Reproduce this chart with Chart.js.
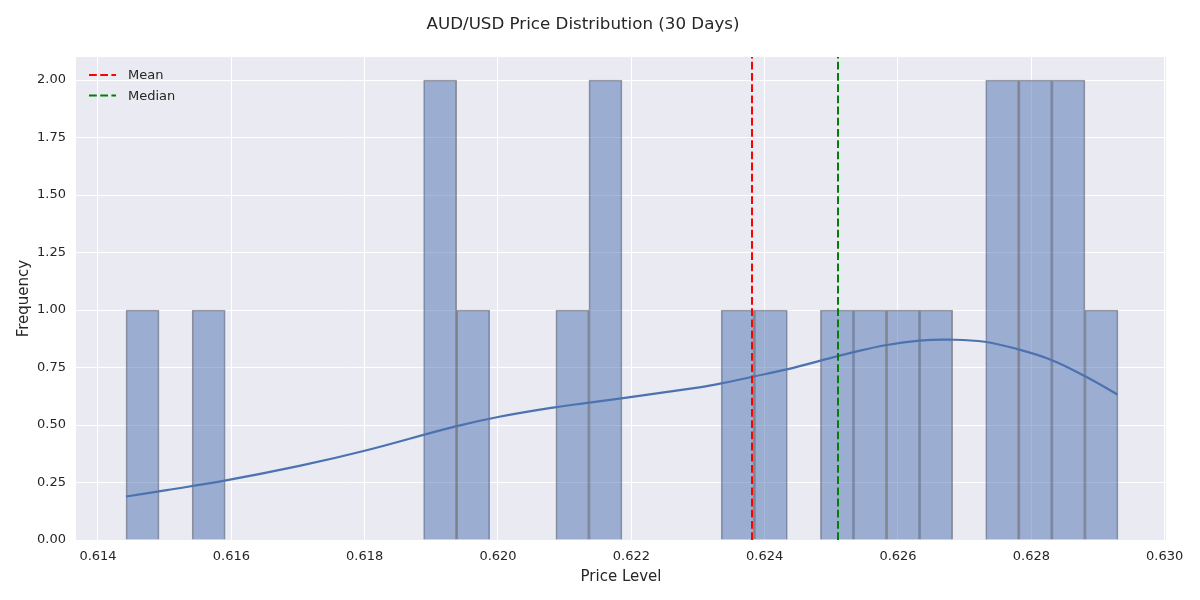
<!DOCTYPE html>
<html lang="en">
<head>
    <meta charset="UTF-8">
    <title>AUD/USD Price Distribution</title>
    <style>
        html, body { margin: 0; padding: 0; background: #ffffff; }
        #wrap { width: 1200px; height: 600px; }
    </style>
</head>
<body>
    <div id="wrap"><canvas id="canvas"></canvas></div>
</body>

<script src="https://cdn.jsdelivr.net/npm/chart.js"></script>

<script>
// histogram bins (30 bins)
const binStart = 0.61442;
const binWidth = 0.000496;
const binCounts = [1, 0, 1, 0, 0, 0, 0, 0, 0, 2, 1, 0, 0, 1, 2, 0, 0, 0, 1, 1, 0, 1, 1, 1, 1, 0, 2, 2, 2, 1];

// kde curve
const kdeX = [0.61442, 0.61503, 0.61590, 0.61702, 0.61800, 0.61935, 0.62002, 0.62085, 0.62134, 0.62185,
              0.62302, 0.62335, 0.62382, 0.62433, 0.62497, 0.62532, 0.62583, 0.62632, 0.62677, 0.62730,
              0.62779, 0.62830, 0.62880, 0.62929];
const kdeY = [0.189, 0.217, 0.258, 0.322, 0.388, 0.493, 0.536, 0.577, 0.596, 0.616,
              0.664, 0.681, 0.710, 0.742, 0.790, 0.816, 0.848, 0.867, 0.871, 0.862,
              0.830, 0.783, 0.713, 0.633];

const meanPrice = 0.62381;
const medianPrice = 0.62510;

const xTickStep = 0.002;
const yTickStep = 0.25;

const FONT = "'DejaVu Sans', sans-serif";
const TEXT = '#262626';

const bars = binCounts.map((c, i) => ({ x: binStart + binWidth * (i + 0.5), y: c }));
const kde = kdeX.map((x, i) => ({ x: x, y: kdeY[i] }));

const areaBg = {
  id: 'areaBg',
  beforeDraw(chart) {
    const { ctx, chartArea: a } = chart;
    ctx.save();
    ctx.fillStyle = '#EAEAF2';
    ctx.fillRect(a.left, a.top, a.right - a.left, a.bottom - a.top);
    ctx.restore();
  }
};

// seaborn-like legend in the upper left of the plot
const innerLegend = {
  id: 'innerLegend',
  afterDraw(chart) {
    const { ctx, chartArea: a } = chart;
    const items = chart.data.datasets.filter(d => d.inLegend);
    ctx.save();
    items.forEach((d, i) => {
      const y = a.top + 18 + i * 20.5;
      ctx.strokeStyle = d.borderColor;
      ctx.lineWidth = 2;
      ctx.setLineDash(d.borderDash);
      ctx.beginPath();
      ctx.moveTo(a.left + 13, y);
      ctx.lineTo(a.left + 40, y);
      ctx.stroke();
      ctx.setLineDash([]);
      ctx.fillStyle = TEXT;
      ctx.font = '13px ' + FONT;
      ctx.textBaseline = 'middle';
      ctx.fillText(d.label, a.left + 52, y + 1);
    });
    ctx.restore();
  }
};

new Chart(document.getElementById('canvas'), {
  type: 'bar',
  data: {
    datasets: [
      {
        type: 'bar',
        label: 'Count',
        data: bars,
        backgroundColor: 'rgba(76,114,176,0.5)',
        borderColor: 'rgba(45,45,55,0.45)',
        borderWidth: 1,
        barPercentage: 1,
        categoryPercentage: 1,
        order: 4
      },
      {
        type: 'line',
        label: 'KDE',
        data: kde,
        borderColor: '#4C72B0',
        borderWidth: 2.2,
        pointRadius: 0,
        tension: 0.4,
        fill: false,
        order: 3
      },
      {
        type: 'line',
        label: 'Mean',
        inLegend: true,
        data: [{ x: meanPrice, y: 0 }, { x: meanPrice, y: 2.1 }],
        borderColor: '#ff0000',
        borderWidth: 2,
        borderDash: [7.8, 3.4],
        pointRadius: 0,
        order: 2
      },
      {
        type: 'line',
        label: 'Median',
        inLegend: true,
        data: [{ x: medianPrice, y: 0 }, { x: medianPrice, y: 2.1 }],
        borderColor: '#008000',
        borderWidth: 2,
        borderDash: [7.8, 3.4],
        pointRadius: 0,
        order: 1
      }
    ]
  },
  options: {
    responsive: true,
    maintainAspectRatio: false,
    animation: false,
    layout: { padding: { left: 0, right: 34, top: 0, bottom: 0 } },
    plugins: {
      legend: { display: false },
      tooltip: { enabled: false },
      title: {
        display: true,
        text: 'AUD/USD Price Distribution (30 Days)',
        color: TEXT,
        font: { family: FONT, size: 16.7, weight: 'normal' },
        padding: { top: 15, bottom: 22 }
      }
    },
    scales: {
      x: {
        type: 'linear',
        offset: false,
        min: 0.61367,
        max: 0.63002,
        grid: { color: '#ffffff', lineWidth: 1, drawTicks: false, offset: false },
        border: { display: false },
        ticks: {
          stepSize: xTickStep,
          includeBounds: false,
          padding: 9,
          color: TEXT,
          font: { family: FONT, size: 13 },
          callback: v => v.toFixed(3)
        },
        title: {
          display: true,
          text: 'Price Level',
          color: TEXT,
          font: { family: FONT, size: 15 },
          padding: { top: 0, bottom: 14 }
        },
        afterFit: s => { s.height = 60; }
      },
      y: {
        min: 0,
        max: 2.1,
        grid: { color: '#ffffff', lineWidth: 1, drawTicks: false },
        border: { display: false },
        ticks: {
          stepSize: yTickStep,
          includeBounds: false,
          padding: 10,
          color: TEXT,
          font: { family: FONT, size: 13 },
          callback: v => v.toFixed(2)
        },
        title: {
          display: true,
          text: 'Frequency',
          color: TEXT,
          font: { family: FONT, size: 15 },
          padding: { top: 15.5, bottom: 0 }
        },
        afterFit: s => { s.width = 76; }
      }
    }
  },
  plugins: [areaBg, innerLegend]
});
</script>
</html>
